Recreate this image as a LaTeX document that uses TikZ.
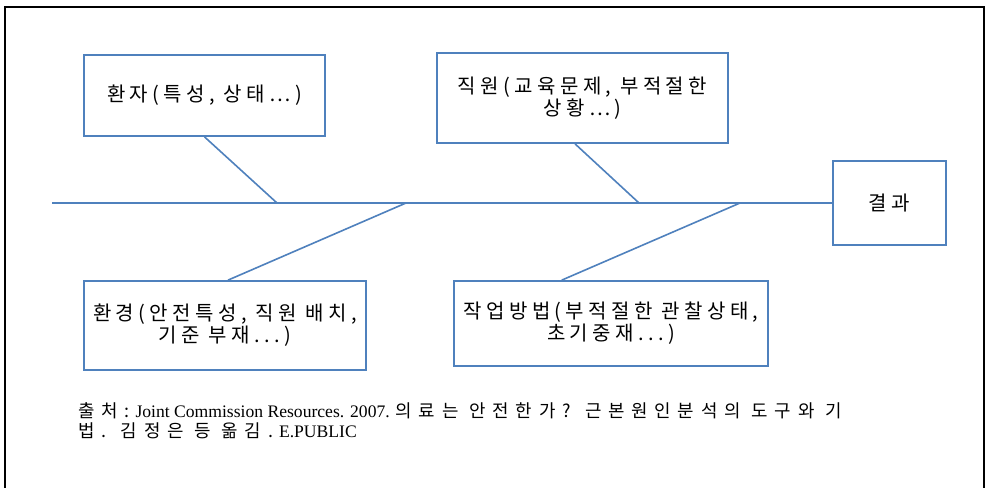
\documentclass[tikz,border=0pt]{standalone}
\usepackage{fontspec}
\setmainfont{Liberation Serif}
\newfontfamily\kr{Noto Sans CJK KR}[LetterSpace=22]
\newfontfamily\krn{Noto Sans CJK KR}[LetterSpace=38]
\usetikzlibrary{calc}
\definecolor{bone}{HTML}{4F81BD}
\newcommand{\notekr}[1]{{\krn\fontsize{13.4}{15}\selectfont #1}}
\begin{document}
\begin{tikzpicture}[x=0.75pt,y=-0.75pt,
  cause/.style={draw=bone,line width=1.3pt,inner sep=0pt,align=center,
    font=\kr\fontsize{15}{15}\selectfont},
  link/.style={draw=bone,line width=1.2pt}]
\useasboundingbox (0,0) rectangle (987,488);
\fill[white] (0,0) rectangle (987,488);
% open frame
\draw[line width=1.7pt] (5,488) -- (5,7) -- (984,7) -- (984,488);

% cause boxes
\node[cause,minimum width=180.75pt,minimum height=60.75pt] (patient) at (204.5,95.5)
  {환자(특성, 상태⋯)};
\node[cause,minimum width=218.25pt,minimum height=67.5pt] (staff) at (582.5,98)
  {직원(교육문제, 부적절한\\상황⋯)};
\node[cause,minimum width=211.5pt,minimum height=66.75pt] (env) at (225,325.5)
  {환경(안전특성, 직원 배치,\\기준 부재...)};
\node[cause,minimum width=235.5pt,minimum height=63.75pt] (method) at (611,323.5)
  {작업방법(부적절한 관찰상태,\\초기중재...)};
\node[cause,minimum width=84.75pt,minimum height=63pt] (result) at (889.5,203)
  {결과};

% spine and its joints
\coordinate (tail) at (52,203);
\coordinate (j1) at (277,203);
\coordinate (j2) at (406,203);
\coordinate (j3) at (639,203);
\coordinate (j4) at (740,203);
\draw[link] (tail) -- (result.west);

% bones
\draw[link] (patient.south) -- (j1);
\draw[link] (j2) -- ([xshift=2.25pt]env.north);
\draw[link] ([xshift=-5.6pt]staff.south) -- (j3);
\draw[link] (j4) -- ($(method.north west)!0.344!(method.north east)$);

% source note
\node[anchor=north west,inner sep=0pt,align=left,font=\fontsize{13.2}{15}\selectfont] (source) at (78,402)
  {\notekr{출처:} Joint Commission Resources. 2007. \notekr{의료는 안전한가? 근본원인분석의 도구와 기}\\
   \notekr{법. 김정은 등 옮김.} E.PUBLIC};
\end{tikzpicture}
\end{document}
